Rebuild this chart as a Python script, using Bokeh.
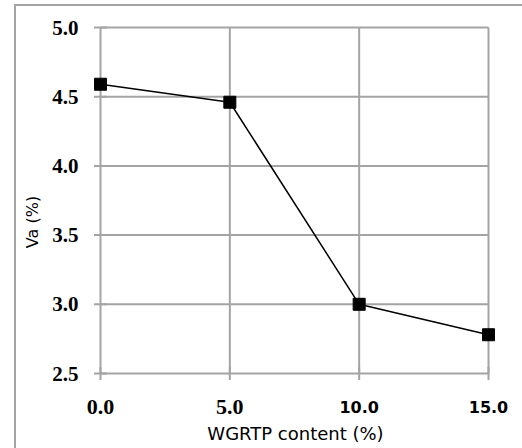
from bokeh.plotting import figure
from bokeh.models import ColumnDataSource, FixedTicker, Range1d, CustomJSTickFormatter
from bokeh.core.properties import field
from bokeh.embed import file_html
from bokeh.resources import INLINE
import math

# data
wgrtp = [0.0, 5.0, 10.0, 15.0]
va = [4.59, 4.46, 3.00, 2.78]
x_ticks = [0.0, 5.0, 10.0, 15.0]
x_tick_labels = ["0.0", "5.0", "10.0", "15.0"]
y_ticks = [2.5, 3.0, 3.5, 4.0, 4.5, 5.0]
x_lim = [0.0, 15.0]
y_lim = [2.5, 5.0]

# styles (the original mixes two typefaces on the x tick labels)
SERIF = ("Liberation Serif", "22px")
SANS = ("DejaVu Sans", "16px")
x_label_styles = [SERIF, SERIF, SANS, SANS]

GRID = "#a4a4a4"
PX_X = 388 / 15      # pixels per x unit
PX_Y = 346 / 2.5     # pixels per y unit
PADL = 20 / PX_X     # room so edge markers / labels are not cut
PADR = 22 / PX_X
PADY = 2 / PX_Y      # room so the top frame line is drawn fully
EXTY = 45 / PX_Y     # room below for the x tick labels

# outer chart border (left and top edges) painted behind a transparent canvas border
BORDER_CSS = ("linear-gradient(#a4a4a4, #a4a4a4) 14px 4px / 100% 2px no-repeat, "
              "linear-gradient(#a4a4a4, #a4a4a4) 14px 4px / 2px 100% no-repeat, white")

p = figure(width=522, height=448, output_backend="svg", toolbar_location=None,
           x_range=Range1d(x_lim[0] - PADL, x_lim[1] + PADR),
           y_range=Range1d(y_lim[0] - EXTY, y_lim[1] + PADY),
           min_border_left=80, min_border_right=12, min_border_top=25, min_border_bottom=30,
           styles={"background": BORDER_CSS})
p.background_fill_color = "white"
p.border_fill_color = None
p.outline_line_color = None
p.grid.visible = False

# grid / frame lines drawn from the tick lists
p.segment(x0=x_ticks, y0=[y_lim[0]] * len(x_ticks), x1=x_ticks, y1=[y_lim[1]] * len(x_ticks),
          line_color=GRID, line_width=2)
p.segment(x0=[x_lim[0]] * len(y_ticks), y0=y_ticks, x1=[x_lim[1]] * len(y_ticks), y1=y_ticks,
          line_color=GRID, line_width=2)
# tick marks
p.scatter(x=x_ticks, y=[y_lim[0]] * len(x_ticks), marker="dash", angle=math.pi / 2, size=13,
          line_color=GRID, line_width=2)
p.scatter(x=[x_lim[0]] * len(y_ticks), y=y_ticks, marker="dash", size=13,
          line_color=GRID, line_width=2)

# x tick labels
lab_src = ColumnDataSource(dict(x=x_ticks, y=[y_lim[0]] * len(x_ticks), text=x_tick_labels,
                                font=[s[0] for s in x_label_styles],
                                size=[s[1] for s in x_label_styles]))
p.text(x="x", y="y", text="text", source=lab_src, text_font=field("font"),
       text_font_size=field("size"), text_font_style="bold", text_color="black",
       text_align="center", text_baseline="middle", y_offset=33)

p.xaxis.ticker = FixedTicker(ticks=[])
p.xaxis.axis_line_color = None
p.xaxis.major_tick_line_color = None
p.xaxis.minor_tick_line_color = None
p.xaxis.axis_label = "WGRTP content (%)"
p.xaxis.axis_label_text_font = "DejaVu Sans"
p.xaxis.axis_label_text_font_style = "normal"
p.xaxis.axis_label_text_font_size = "18px"
p.xaxis.axis_label_text_color = "black"
p.xaxis.axis_label_standoff = 4

p.yaxis.ticker = FixedTicker(ticks=y_ticks)
p.yaxis.formatter = CustomJSTickFormatter(code="return tick.toFixed(1);")
p.yaxis.axis_line_color = None
p.yaxis.major_tick_line_color = None
p.yaxis.minor_tick_line_color = None
p.yaxis.major_tick_in = 0
p.yaxis.major_tick_out = 0
p.yaxis.major_label_text_font = "Liberation Serif"
p.yaxis.major_label_text_font_style = "bold"
p.yaxis.major_label_text_font_size = "21px"
p.yaxis.major_label_text_color = "black"
p.yaxis.major_label_standoff = 2
p.yaxis.axis_label = "Va (%)"
p.yaxis.axis_label_text_font = "DejaVu Sans"
p.yaxis.axis_label_text_font_style = "normal"
p.yaxis.axis_label_text_font_size = "16px"
p.yaxis.axis_label_text_color = "black"
p.yaxis.axis_label_standoff = 7

src = ColumnDataSource(dict(x=wgrtp, y=va))
p.line("x", "y", source=src, line_color="black", line_width=1.5)
p.scatter("x", "y", source=src, marker="square", size=12, fill_color="black", line_color="black")

open("out.html", "w").write(file_html(p, INLINE))
